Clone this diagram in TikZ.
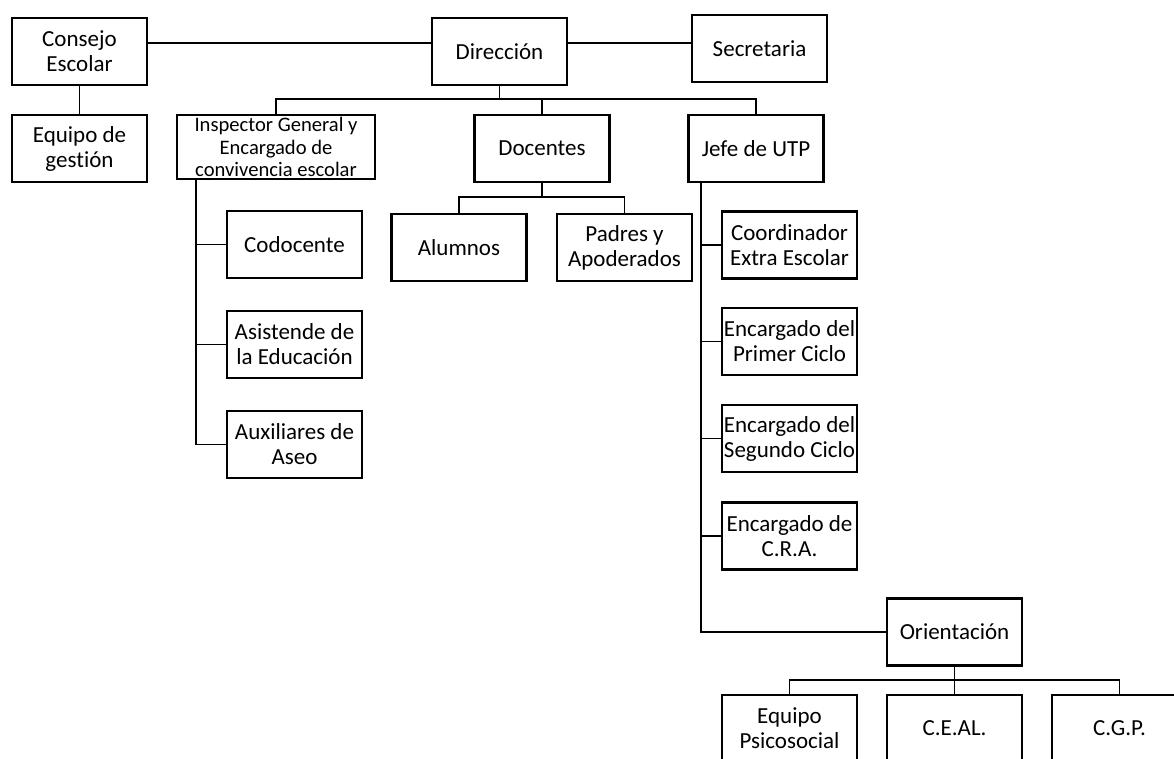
\documentclass[tikz,border=0pt]{standalone}
\usepackage{fontspec}
\setmainfont[Ligatures=NoCommon]{Carlito}
\begin{document}
\begin{tikzpicture}[x=1pt,y=-1pt,
  txt/.style={align=center, font=\fontsize{23}{25}\selectfont},
  box/.style={draw, line width=2.8pt, minimum width=135pt, minimum height=67pt, inner sep=0pt, txt},
  conn/.style={line width=1.8pt}]
\useasboundingbox (0,0) rectangle (1174,758);
\clip (0,0) rectangle (1174,758);
% top row
\node[box] (conse) at (79.5,51.5) {Consejo\\Escolar};
\node[box] (equipo) at (79.5,148.5) {Equipo de\\gestión};
\node[box] (dir) at (499.5,51.5) {Dirección};
\node[box] (sec) at (759.5,48.5) {Secretaria};
% second row
\node[box, minimum width=198pt, minimum height=64pt,
  label={[txt, font=\fontsize{20.6}{22.8}\selectfont, inner sep=0pt]center:Inspector General y\\Encargado de\\convivencia escolar}] (insp) at (276,147) {};
\node[box] (doc) at (542,148.5) {Docentes};
\node[box] (jefe) at (756,148.5) {Jefe de UTP};
% inspector children
\node[box] (codo) at (294.5,244.5) {Codocente};
\node[box] (asis) at (294.5,344.5) {Asistende de\\la Educación};
\node[box] (aux) at (294.5,444.5) {Auxiliares de\\Aseo};
% docentes children
\node[box] (alum) at (459,247.5) {Alumnos};
\node[box] (padres) at (624.5,247.5) {Padres y\\Apoderados};
% UTP children
\node[box] (coord) at (789.5,245) {Coordinador\\Extra Escolar};
\node[box] (primer) at (789.5,341.5) {Encargado del\\Primer Ciclo};
\node[box] (segundo) at (789.5,438.5) {Encargado del\\Segundo Ciclo};
\node[box] (cra) at (789.5,536) {Encargado de\\C.R.A.};
\node[box] (orient) at (954.5,632) {Orientación};
% orientation children
\node[box] (psico) at (789.5,728.5) {Equipo\\Psicosocial};
\node[box] (ceal) at (954.5,728.5) {C.E.AL.};
\node[box] (cgp) at (1119.5,728.5) {C.G.P.};
% helper coordinates
\coordinate (topline) at (0,43);
\coordinate (bus1) at (0,99);
\coordinate (bus2) at (0,197);
\coordinate (inspx) at (196,0);
\coordinate (jefex) at (701,0);
\coordinate (bus3) at (0,680);
% connectors
\draw[conn] (conse.east |- topline) -- (dir.west |- topline);
\draw[conn] (dir.east |- topline) -- (sec.west |- topline);
\draw[conn] (conse.south) -- (equipo.north);
\draw[conn] (dir.south) -- (dir.south |- bus1);
\draw[conn] (insp.north) -- (insp.north |- bus1) -- (jefe.north |- bus1) -- (jefe.north);
\draw[conn] (doc.north |- bus1) -- (doc.north);
\draw[conn] (doc.south) -- (doc.south |- bus2);
\draw[conn] (alum.north) -- (alum.north |- bus2) -- (padres.north |- bus2) -- (padres.north);
\draw[conn] (inspx |- insp.south) -- (inspx |- aux.west) -- (aux.west);
\draw[conn] (inspx |- codo.west) -- (codo.west);
\draw[conn] (inspx |- asis.west) -- (asis.west);
\draw[conn] (jefex |- jefe.south) -- (jefex |- orient.west) -- (orient.west);
\draw[conn] (jefex |- coord.west) -- (coord.west);
\draw[conn] (jefex |- primer.west) -- (primer.west);
\draw[conn] (jefex |- segundo.west) -- (segundo.west);
\draw[conn] (jefex |- cra.west) -- (cra.west);
\draw[conn] (orient.south) -- (orient.south |- bus3);
\draw[conn] (psico.north) -- (psico.north |- bus3) -- (cgp.north |- bus3) -- (cgp.north);
\draw[conn] (ceal.north |- bus3) -- (ceal.north);
\end{tikzpicture}
\end{document}
